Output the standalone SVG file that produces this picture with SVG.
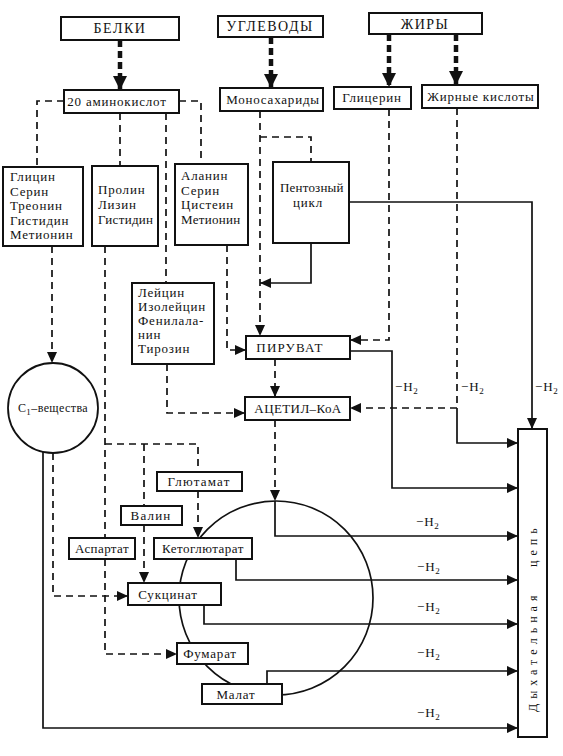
<svg xmlns="http://www.w3.org/2000/svg" width="563" height="756" viewBox="0 0 563 756">
<style>
.bx{fill:#fff;stroke:#111;stroke-width:2}
.t{font-family:"Liberation Serif","DejaVu Serif",serif;font-size:13px;letter-spacing:0.8px;fill:#111}
.c{text-anchor:middle}
.h{font-size:14px;letter-spacing:1.5px}
.s{fill:none;stroke:#111;stroke-width:1.7}
.d{fill:none;stroke:#111;stroke-width:1.7;stroke-dasharray:7 5}
.th{fill:none;stroke:#111;stroke-width:4.5;stroke-dasharray:7 4}
.sub{font-size:9px}
</style>
<defs>
<marker id="a" markerUnits="userSpaceOnUse" markerWidth="11" markerHeight="10" refX="11" refY="5" orient="auto"><path d="M0,0 L11,5 L0,10 z" fill="#111"/></marker>
<marker id="b" markerUnits="userSpaceOnUse" markerWidth="14" markerHeight="14" refX="14" refY="7" orient="auto"><path d="M0,0 L14,7 L0,14 z" fill="#111"/></marker>
</defs>
<rect width="563" height="756" fill="#fff"/>

<g id="krebs-cycle"><circle cx="276" cy="598" r="97" fill="none" stroke="#111" stroke-width="1.7"/></g>

<g id="connectors">
<path class="th" d="M120,40 V90" marker-end="url(#b)"/>
<path class="th" d="M271,37 V88" marker-end="url(#b)"/>
<path class="th" d="M389,34 V87" marker-end="url(#b)"/>
<path class="th" d="M456,34 V85" marker-end="url(#b)"/>

<path class="d" d="M64,101 H37 V167"/>
<path class="d" d="M179,101 H201 V164"/>
<path class="d" d="M120,113 V166"/>
<path class="d" d="M166,113 V283"/>
<path class="d" d="M52,246 V363" marker-end="url(#a)"/>
<path class="d" d="M105,246 V538"/>
<path class="d" d="M105,444 H198 V472"/>
<path class="d" d="M144,444 V506"/>
<path class="d" d="M198,491 V538" marker-end="url(#a)"/>
<path class="d" d="M144,525 V583" marker-end="url(#a)"/>
<path class="d" d="M105,559 V654 H177" marker-end="url(#a)"/>
<path class="d" d="M53,453 V596 H128" marker-end="url(#a)"/>
<path class="d" d="M167,364 V413 H245" marker-end="url(#a)"/>
<path class="d" d="M227,245 V350 H246" marker-end="url(#a)"/>
<path class="d" d="M260,111 V336" marker-end="url(#a)"/>
<path class="d" d="M260,137 H311 V162"/>
<path class="d" d="M389,109 V340 H350" marker-end="url(#a)"/>
<path class="d" d="M457,108 V408 H350" marker-end="url(#a)"/>
<path class="d" d="M275,359 V397" marker-end="url(#a)"/>
<path class="d" d="M275,420 V501" marker-end="url(#a)"/>

<path class="s" d="M349,202 H532 V429" marker-end="url(#a)"/>
<path class="s" d="M311,243 V283 H260" marker-end="url(#a)"/>
<path class="s" d="M350,351 H392 V488 H518" marker-end="url(#a)"/>
<path class="s" d="M457,408 V443 H518" marker-end="url(#a)"/>
<path class="s" d="M275,501 V536 H518" marker-end="url(#a)"/>
<path class="s" d="M236,559 V580 H518" marker-end="url(#a)"/>
<path class="s" d="M204,605 V624 H518" marker-end="url(#a)"/>
<path class="s" d="M267,684 V671 H518" marker-end="url(#a)"/>
<path class="s" d="M43,452 V728 H518" marker-end="url(#a)"/>

<g class="t">
<text x="395" y="391">−H<tspan class="sub" dy="3">2</tspan></text>
<text x="461" y="391">−H<tspan class="sub" dy="3">2</tspan></text>
<text x="535" y="391">−H<tspan class="sub" dy="3">2</tspan></text>
<text x="416" y="526">−H<tspan class="sub" dy="3">2</tspan></text>
<text x="417" y="571">−H<tspan class="sub" dy="3">2</tspan></text>
<text x="417" y="611">−H<tspan class="sub" dy="3">2</tspan></text>
<text x="417" y="657">−H<tspan class="sub" dy="3">2</tspan></text>
<text x="417" y="717">−H<tspan class="sub" dy="3">2</tspan></text>
</g>
</g>

<g id="belki"><rect class="bx" x="61" y="17" width="118" height="23"/><text class="t c h" x="120" y="33">БЕЛКИ</text></g>
<g id="uglevody"><rect class="bx" x="218" y="16" width="105" height="21"/><text class="t c h" x="270" y="31">УГЛЕВОДЫ</text></g>
<g id="zhiry"><rect class="bx" x="369" y="13" width="113" height="21"/><text class="t c h" x="425" y="29">ЖИРЫ</text></g>

<g id="aminokisloty"><rect class="bx" x="64" y="90" width="115" height="23"/><text class="t c" x="117" y="106">20 аминокислот</text></g>
<g id="monosaharidy"><rect class="bx" x="220" y="88" width="103" height="23"/><text class="t c" x="273" y="104">Моносахариды</text></g>
<g id="glicerin"><rect class="bx" x="334" y="87" width="77" height="22"/><text class="t c" x="372" y="102">Глицерин</text></g>
<g id="zhirnye-kisloty"><rect class="bx" x="422" y="85" width="116" height="23"/><text class="t c" x="481" y="101">Жирные кислоты</text></g>

<g id="group-glicin"><rect class="bx" x="3" y="167" width="80" height="79"/>
<text class="t" x="10" y="181">Глицин</text><text class="t" x="10" y="196">Серин</text><text class="t" x="10" y="210">Треонин</text><text class="t" x="10" y="225">Гистидин</text><text class="t" x="10" y="239">Метионин</text></g>
<g id="group-prolin"><rect class="bx" x="92" y="166" width="66" height="80"/>
<text class="t" x="98" y="194">Пролин</text><text class="t" x="98" y="209">Лизин</text><text class="t" x="98" y="224" style="letter-spacing:0.3px">Гистидин</text></g>
<g id="group-alanin"><rect class="bx" x="175" y="164" width="73" height="81"/>
<text class="t" x="181" y="180">Аланин</text><text class="t" x="181" y="195">Серин</text><text class="t" x="181" y="209">Цистеин</text><text class="t" x="181" y="224" style="letter-spacing:0.3px">Метионин</text></g>
<g id="pentoznyi-cikl"><rect class="bx" x="273" y="162" width="76" height="81"/>
<text class="t" x="280" y="192" style="letter-spacing:0.2px">Пентозный</text><text class="t" x="293" y="207">цикл</text></g>
<g id="group-leicin"><rect class="bx" x="132" y="283" width="82" height="81"/>
<text class="t" x="138" y="297">Лейцин</text><text class="t" x="138" y="311">Изолейцин</text><text class="t" x="138" y="325">Фенилала-</text><text class="t" x="138" y="339">нин</text><text class="t" x="138" y="353">Тирозин</text></g>

<g id="piruvat"><rect class="bx" x="246" y="336" width="104" height="23"/><text class="t c" x="290" y="352" style="letter-spacing:1.2px">ПИРУВАТ</text></g>
<g id="acetil-koa"><rect class="bx" x="245" y="397" width="105" height="23"/><text class="t c" x="298" y="413" style="letter-spacing:0.4px">АЦЕТИЛ–КоА</text></g>

<g id="c1-veshchestva"><circle cx="53" cy="408" r="45" fill="#fff" stroke="#111" stroke-width="1.8"/><text class="t c" x="53" y="412" style="font-size:12px;letter-spacing:0.4px">С<tspan class="sub" dy="3">1</tspan><tspan dy="-3">–вещества</tspan></text></g>

<g id="glutamat"><rect class="bx" x="157" y="472" width="85" height="19"/><text class="t c" x="199" y="486" style="letter-spacing:1.2px">Глютамат</text></g>
<g id="valin"><rect class="bx" x="121" y="506" width="61" height="19"/><text class="t c" x="151" y="520" style="letter-spacing:1.2px">Валин</text></g>
<g id="aspartat"><rect class="bx" x="69" y="538" width="66" height="21"/><text class="t c" x="102" y="553" style="letter-spacing:0.4px">Аспартат</text></g>
<g id="ketoglutarat"><rect class="bx" x="154" y="538" width="98" height="21"/><text class="t c" x="203" y="553" style="letter-spacing:0.5px">Кетоглютарат</text></g>
<g id="sukcinat"><rect class="bx" x="128" y="583" width="93" height="22"/><text class="t c" x="168" y="599">Сукцинат</text></g>
<g id="fumarat"><rect class="bx" x="177" y="643" width="71" height="21"/><text class="t c" x="210" y="658">Фумарат</text></g>
<g id="malat"><rect class="bx" x="202" y="684" width="80" height="20"/><text class="t c" x="236" y="699">Малат</text></g>

<g id="dyhatelnaya-cep"><rect class="bx" x="518" y="429" width="29" height="308"/>
<text class="t" transform="translate(537,712) rotate(-90)" style="font-size:12px;letter-spacing:5px">Дыхательная</text>
<text class="t" transform="translate(537,567) rotate(-90)" style="font-size:12px;letter-spacing:5px">цепь</text></g>
</svg>
